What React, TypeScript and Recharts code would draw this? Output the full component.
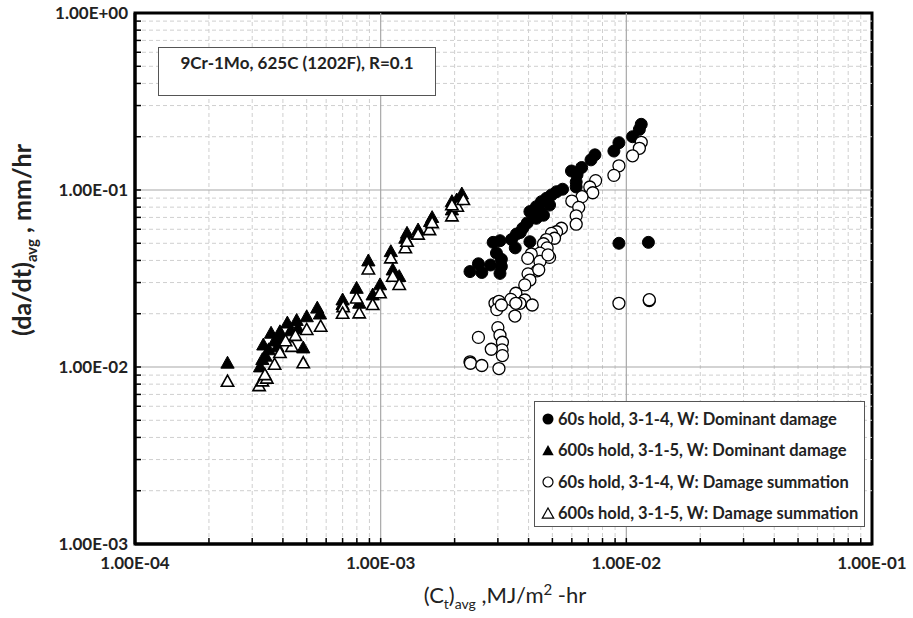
import React from 'react';
import { ScatterChart, Scatter, XAxis, YAxis, ReferenceLine, ReferenceArea } from 'recharts';

// ---- data (x = Ct avg, MJ/m2-hr ; y = da/dt avg, mm/hr) ----
const hold60Dominant: [number, number][] = [
  [1.15e-2, 0.235], [1.13e-2, 0.22], [1.06e-2, 0.2], [9.33e-3, 0.185], [8.9e-3, 0.166],
  [7.45e-3, 0.158], [7.18e-3, 0.148], [6.58e-3, 0.134], [5.98e-3, 0.128], [6.3e-3, 0.122],
  [6.25e-3, 0.111], [6.25e-3, 0.104], [5.5e-3, 0.101], [5.2e-3, 0.0978], [4.96e-3, 0.0938],
  [4.73e-3, 0.0898], [4.51e-3, 0.0859], [4.87e-3, 0.0822], [4.3e-3, 0.0805], [4.05e-3, 0.0755],
  [4.45e-3, 0.0755], [4.3e-3, 0.0692], [3.95e-3, 0.0652], [3.79e-3, 0.0608], [3.57e-3, 0.0564],
  [4.05e-3, 0.051], [3.41e-3, 0.0525], [3.06e-3, 0.0517], [2.87e-3, 0.0506], [3.53e-3, 0.0471],
  [2.96e-3, 0.044], [3.1e-3, 0.0406], [2.8e-3, 0.0377], [3.1e-3, 0.037], [2.5e-3, 0.0383],
  [2.31e-3, 0.0346], [2.58e-3, 0.0342], [3.06e-3, 0.0338], [3.7e-3, 0.0575], [4.6e-3, 0.072],
  [9.33e-3, 0.05], [1.23e-2, 0.0506],
];

const hold600Dominant: [number, number][] = [
  [2.38e-4, 1.05e-2], [3.23e-4, 1.0e-2], [3.33e-4, 1.33e-2], [3.58e-4, 1.55e-2], [3.89e-4, 1.58e-2],
  [4.17e-4, 1.77e-2], [4.55e-4, 1.83e-2], [5.0e-4, 1.92e-2], [5.52e-4, 2.15e-2], [5.66e-4, 1.99e-2],
  [4.84e-4, 1.28e-2], [7.0e-4, 2.39e-2], [7.98e-4, 2.78e-2], [8.18e-4, 2.29e-2], [8.91e-4, 3.97e-2],
  [9.28e-4, 2.55e-2], [9.94e-4, 2.91e-2], [1.1e-3, 4.48e-2], [1.12e-3, 3.53e-2], [1.19e-3, 3.24e-2],
  [1.28e-3, 5.69e-2], [1.26e-3, 5.33e-2], [1.42e-3, 5.94e-2], [1.62e-3, 6.98e-2], [1.59e-3, 6.62e-2],
  [1.95e-3, 8.59e-2], [2.04e-3, 8.78e-2], [2.14e-3, 9.49e-2], [1.95e-3, 7.71e-2],
  [3.4e-4, 1.15e-2], [3.5e-4, 1.25e-2], [3.7e-4, 1.4e-2], [3.8e-4, 1.3e-2], [3.9e-4, 1.45e-2],
  [4.3e-4, 1.6e-2], [4.6e-4, 1.65e-2], [3.3e-4, 1.1e-2], [7.0e-4, 2.25e-2],
];

const hold60Summation: [number, number][] = [
  [1.15e-2, 0.186], [1.13e-2, 0.172], [1.06e-2, 0.156], [9.33e-3, 0.137], [8.9e-3, 0.121],
  [7.5e-3, 0.113], [7.1e-3, 0.104], [7.3e-3, 0.0965], [6.6e-3, 0.0917], [6.0e-3, 0.0866],
  [6.4e-3, 0.0798], [6.25e-3, 0.0715], [6.25e-3, 0.0641], [5.44e-3, 0.0608], [5.2e-3, 0.0581],
  [4.96e-3, 0.0569], [5.1e-3, 0.0534], [4.73e-3, 0.0525], [4.6e-3, 0.0497], [4.76e-3, 0.0471],
  [4.45e-3, 0.044], [4.1e-3, 0.0435], [3.97e-3, 0.0411], [4.87e-3, 0.0416], [4.45e-3, 0.0395],
  [4.8e-3, 0.043], [4.33e-3, 0.0349], [3.98e-3, 0.0336], [4.05e-3, 0.031], [3.86e-3, 0.0291],
  [4.4e-3, 0.0354], [3.55e-3, 0.0261], [3.39e-3, 0.0241], [3.86e-3, 0.0239], [3.69e-3, 0.0229],
  [3.55e-3, 0.0229], [4.14e-3, 0.0224], [2.92e-3, 0.0229], [3.03e-3, 0.0235], [2.97e-3, 0.0211],
  [3.1e-3, 0.0224], [3.52e-3, 0.0194], [3.0e-3, 0.0167], [3.06e-3, 0.0151], [3.13e-3, 0.0138],
  [3.12e-3, 0.0125], [3.13e-3, 0.0116], [2.5e-3, 0.0147], [2.82e-3, 0.0126], [2.31e-3, 0.0107],
  [2.32e-3, 0.0105], [2.58e-3, 0.0102], [3.03e-3, 0.0098],
  [9.33e-3, 0.0229], [1.24e-2, 0.0237], [1.24e-2, 0.024],
];

const hold600Summation: [number, number][] = [
  [2.38e-4, 8.26e-3], [3.2e-4, 7.8e-3], [3.3e-4, 8.3e-3], [3.44e-4, 8.6e-3], [3.38e-4, 9.0e-3],
  [4.84e-4, 1.05e-2], [5.7e-4, 1.69e-2], [5.0e-4, 1.62e-2], [4.35e-4, 1.3e-2], [3.89e-4, 1.2e-2],
  [3.7e-4, 1.03e-2], [4.1e-4, 1.4e-2], [4.5e-4, 1.5e-2], [7.04e-4, 2.18e-2], [8.18e-4, 2.01e-2],
  [7.98e-4, 2.44e-2], [8.91e-4, 3.56e-2], [9.28e-4, 2.24e-2], [9.94e-4, 2.61e-2], [1.1e-3, 4.11e-2],
  [1.12e-3, 3.24e-2], [1.19e-3, 2.91e-2], [1.26e-3, 4.69e-2], [1.28e-3, 5.1e-2], [1.42e-3, 5.6e-2],
  [1.58e-3, 5.94e-2], [1.62e-3, 6.5e-2], [1.95e-3, 7.1e-2], [2.05e-3, 8.05e-2], [2.17e-3, 8.78e-2],
  [1.95e-3, 8.2e-2], [7.0e-4, 2.0e-2],
];

const seriesNames = [
  '60s hold, 3-1-4, W: Dominant damage',
  '600s hold, 3-1-5, W: Dominant damage',
  '60s hold, 3-1-4, W: Damage summation',
  '600s hold, 3-1-5, W: Damage summation',
];

const annotation = '9Cr-1Mo, 625C (1202F), R=0.1';

const xMajor = [1e-4, 1e-3, 1e-2, 1e-1];
const yMajor = [1e-3, 1e-2, 1e-1, 1];
const minorMult = [2, 3, 4, 5, 6, 7, 8, 9];
const xMinor = xMajor.slice(0, -1).flatMap((d) => minorMult.map((m) => +(d * m).toPrecision(3)));
const yMinor = yMajor.slice(0, -1).flatMap((d) => minorMult.map((m) => +(d * m).toPrecision(3)));
const xTicks = [...xMajor, ...xMinor].sort((a, b) => a - b);
const yTicks = [...yMajor, ...yMinor].sort((a, b) => a - b);

const toPts = (arr: [number, number][]) => arr.map(([x, y]) => ({ x, y }));

const FONT = 'Lato, "Open Sans", sans-serif';

const isMajor = (list: number[], v: number) => list.some((m) => Math.abs(m - v) / m < 1e-6);

const fmt = (v: number) => {
  const e = Math.round(Math.log10(v));
  const mant = (v / Math.pow(10, e)).toFixed(2);
  const sign = e < 0 ? '-' : '+';
  const ab = Math.abs(e);
  return `${mant}E${sign}${ab < 10 ? '0' + ab : ab}`;
};

const XTick = (props: any) => {
  const { x, y, payload } = props;
  const major = isMajor(xMajor, payload.value);
  return (
    <g>
      <line x1={x} x2={x} y1={y} y2={y - 6} stroke="#000" strokeWidth={1.5} />
      {major && (
        <text x={x} y={y + 25} textAnchor="middle" fontSize={17} fontWeight={700} fill="#222" fontFamily={FONT}>
          {fmt(payload.value)}
        </text>
      )}
    </g>
  );
};

const YTick = (props: any) => {
  const { x, y, payload } = props;
  const major = isMajor(yMajor, payload.value);
  return (
    <g>
      <line x1={x} x2={x + 6} y1={y} y2={y} stroke="#000" strokeWidth={1.5} />
      {major && (
        <text x={x - 7} y={y + 6} textAnchor="end" fontSize={17} fontWeight={700} fill="#222" fontFamily={FONT}>
          {fmt(payload.value)}
        </text>
      )}
    </g>
  );
};

const XTitle = () => (
  <text x={505} y={603} textAnchor="middle" fontSize={22} fill="#222" fontFamily={FONT}>
    (C<tspan dy={6} fontSize={14}>t</tspan>
    <tspan dy={-6}>)</tspan>
    <tspan dy={6} fontSize={14}>avg</tspan>
    <tspan dy={-6}> ,MJ/m</tspan>
    <tspan dy={-8} fontSize={15}>2</tspan>
    <tspan dy={8}> -hr</tspan>
  </text>
);

const YTitle = () => (
  <text
    x={0}
    y={0}
    transform="translate(31,240) rotate(-90)"
    textAnchor="middle"
    fontSize={25}
    fontWeight={700}
    fill="#222"
    fontFamily={FONT}
  >
    (da/dt)<tspan dy={6} fontSize={15}>avg</tspan>
    <tspan dy={-6}> , mm/hr</tspan>
  </text>
);

const FilledCircle = (p: any) => <circle cx={p.cx} cy={p.cy} r={6} fill="#000" stroke="#000" strokeWidth={1} />;
const OpenCircle = (p: any) => <circle cx={p.cx} cy={p.cy} r={6} fill="#fff" stroke="#000" strokeWidth={1.3} />;
const triPath = (cx: number, cy: number, s: number) =>
  `M${cx},${cy - s} L${cx + s * 0.95},${cy + s * 0.7} L${cx - s * 0.95},${cy + s * 0.7} Z`;
const FilledTri = (p: any) => <path d={triPath(p.cx, p.cy, 7)} fill="#000" stroke="#000" strokeWidth={1} />;
const OpenTri = (p: any) => <path d={triPath(p.cx, p.cy, 6.5)} fill="#fff" stroke="#000" strokeWidth={1.6} />;

const legendMarkers = [
  <circle cx={7} cy={8} r={5.5} fill="#000" />,
  <path d={triPath(7, 9, 6)} fill="#000" />,
  <circle cx={7} cy={8} r={5} fill="#fff" stroke="#000" strokeWidth={1.2} />,
  <path d={triPath(7, 9, 6)} fill="#fff" stroke="#000" strokeWidth={1.2} />,
];

export default function App() {
  return (
    <div style={{ position: 'absolute', left: 0, top: 0, width: 913, height: 618, background: '#fff', fontFamily: FONT }}>
      <ScatterChart width={913} height={618} margin={{ top: 13, right: 41, left: 0, bottom: 0 }}>
        <XAxis
          type="number"
          dataKey="x"
          scale="log"
          domain={[1e-4, 1e-1]}
          ticks={xTicks}
          interval={0}
          allowDataOverflow
          tickSize={0}
          tickMargin={0}
          tickLine={false}
          axisLine={{ stroke: '#000', strokeWidth: 3 }}
          tick={<XTick />}
          height={74}
        />
        <YAxis
          type="number"
          dataKey="y"
          scale="log"
          domain={[1e-3, 1]}
          ticks={yTicks}
          interval={0}
          allowDataOverflow
          tickSize={0}
          tickMargin={0}
          tickLine={false}
          axisLine={{ stroke: '#000', strokeWidth: 3 }}
          tick={<YTick />}
          width={135}
        />
        {xMinor.map((v) => (
          <ReferenceLine key={'xm' + v} x={v} stroke="#cfcfcf" strokeDasharray="4 3" />
        ))}
        {yMinor.map((v) => (
          <ReferenceLine key={'ym' + v} y={v} stroke="#cfcfcf" strokeDasharray="4 3" />
        ))}
        {xMajor.slice(1, -1).map((v) => (
          <ReferenceLine key={'xM' + v} x={v} stroke="#a8a8a8" strokeWidth={1.2} />
        ))}
        {yMajor.slice(1, -1).map((v) => (
          <ReferenceLine key={'yM' + v} y={v} stroke="#a8a8a8" strokeWidth={1.2} />
        ))}
        <ReferenceArea x1={1e-4} x2={1e-1} y1={1e-3} y2={1} fill="none" stroke="#000" strokeWidth={3} />
        <Scatter name={seriesNames[0]} data={toPts(hold60Dominant)} shape={FilledCircle} isAnimationActive={false} />
        <Scatter name={seriesNames[1]} data={toPts(hold600Dominant)} shape={FilledTri} isAnimationActive={false} />
        <Scatter name={seriesNames[2]} data={toPts(hold60Summation)} shape={OpenCircle} isAnimationActive={false} />
        <Scatter name={seriesNames[3]} data={toPts(hold600Summation)} shape={OpenTri} isAnimationActive={false} />
        <XTitle />
        <YTitle />
      </ScatterChart>

      <div
        style={{
          position: 'absolute',
          left: 158,
          top: 47,
          width: 278,
          height: 49,
          border: '1px solid #555',
          background: '#fff',
          boxSizing: 'border-box',
          textAlign: 'center',
          fontSize: 17,
          fontWeight: 700,
          color: '#222',
          paddingTop: 4,
        }}
      >
        {annotation}
      </div>

      <div
        style={{
          position: 'absolute',
          left: 534,
          top: 401,
          width: 331,
          height: 126,
          border: '1px solid #555',
          background: '#fff',
          boxSizing: 'border-box',
          paddingTop: 1,
        }}
      >
        {seriesNames.map((n, i) => (
          <div key={n} style={{ display: 'flex', alignItems: 'center', height: 31.5, paddingLeft: 6, fontSize: 16.5, fontWeight: 700, color: '#222', whiteSpace: 'nowrap' }}>
            <svg width={15} height={16} style={{ marginRight: 2, flexShrink: 0 }}>
              {legendMarkers[i]}
            </svg>
            <span>{n}</span>
          </div>
        ))}
      </div>
    </div>
  );
}
